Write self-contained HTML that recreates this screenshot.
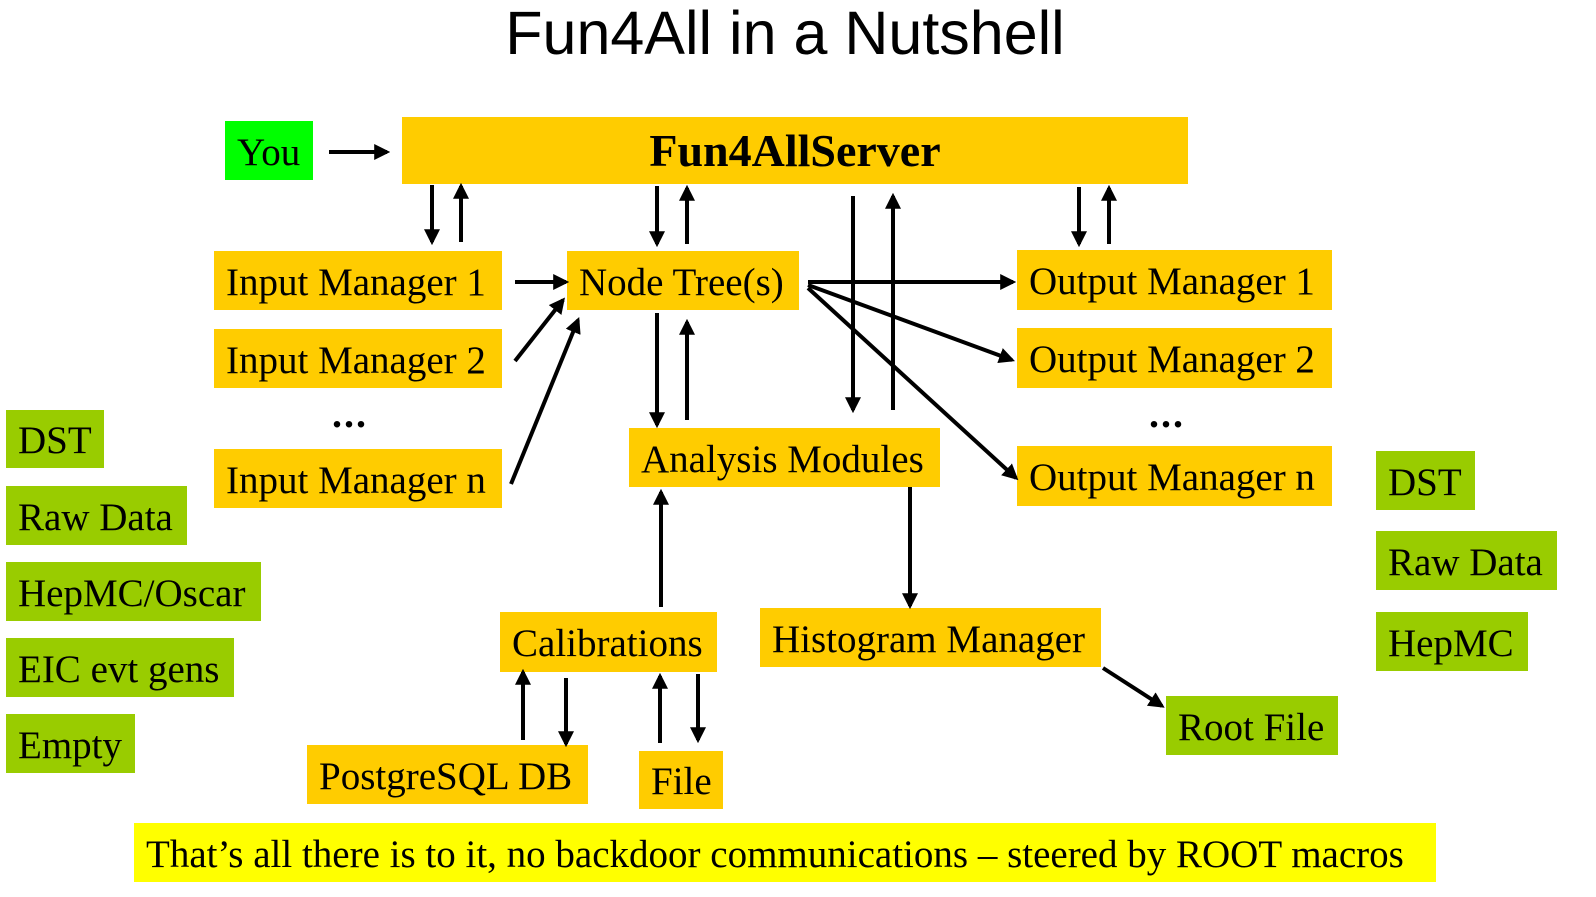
<!DOCTYPE html>
<html><head><meta charset="utf-8"><style>
body{margin:0;width:1596px;height:897px;background:#fff;position:relative;overflow:hidden;font-family:"Liberation Serif",serif;}
.b{position:absolute;box-sizing:border-box;font-size:39px;line-height:1;display:flex;align-items:center;padding-left:12px;padding-top:3px;white-space:nowrap;color:#000}
.o{background:#FFCC00}.g{background:#99CC00}
.t{position:absolute;font-family:"Liberation Sans",sans-serif;font-size:61px;left:0;width:1570px;text-align:center;top:-2px}
.d{position:absolute;font-size:40px;font-weight:bold;letter-spacing:2px}
svg{position:absolute;left:0;top:0}
</style></head><body>
<div class="t">Fun4All in a Nutshell</div>
<div class="b" style="left:225px;top:121px;width:88px;height:59px;background:#00FF00">You</div>
<div class="b o" style="left:402px;top:117px;width:786px;height:67px;justify-content:center;padding:0;font-weight:bold;font-size:46px">Fun4AllServer</div>
<div class="b o" style="left:214px;top:251px;width:288px;height:59px">Input Manager 1</div>
<div class="b o" style="left:214px;top:329px;width:288px;height:59px">Input Manager 2</div>
<div class="d" style="left:332px;top:390px">...</div>
<div class="b o" style="left:214px;top:449px;width:288px;height:59px">Input Manager n</div>
<div class="b o" style="left:567px;top:251px;width:232px;height:59px">Node Tree(s)</div>
<div class="b o" style="left:1017px;top:250px;width:315px;height:60px">Output Manager 1</div>
<div class="b o" style="left:1017px;top:328px;width:315px;height:60px">Output Manager 2</div>
<div class="d" style="left:1149px;top:390px">...</div>
<div class="b o" style="left:1017px;top:446px;width:315px;height:60px">Output Manager n</div>
<div class="b o" style="left:629px;top:428px;width:311px;height:59px">Analysis Modules</div>
<div class="b o" style="left:500px;top:612px;width:217px;height:60px">Calibrations</div>
<div class="b o" style="left:760px;top:608px;width:341px;height:59px">Histogram Manager</div>
<div class="b g" style="left:1166px;top:696px;width:172px;height:59px">Root File</div>
<div class="b o" style="left:307px;top:745px;width:281px;height:59px">PostgreSQL DB</div>
<div class="b o" style="left:639px;top:751px;width:84px;height:58px">File</div>
<div class="b g" style="left:6px;top:410px;width:98px;height:58px">DST</div>
<div class="b g" style="left:6px;top:486px;width:181px;height:59px">Raw Data</div>
<div class="b g" style="left:6px;top:562px;width:255px;height:59px">HepMC/Oscar</div>
<div class="b g" style="left:6px;top:638px;width:228px;height:59px">EIC evt gens</div>
<div class="b g" style="left:6px;top:714px;width:129px;height:59px">Empty</div>
<div class="b g" style="left:1376px;top:451px;width:99px;height:59px">DST</div>
<div class="b g" style="left:1376px;top:531px;width:181px;height:59px">Raw Data</div>
<div class="b g" style="left:1376px;top:612px;width:152px;height:59px">HepMC</div>
<div class="b" style="left:134px;top:823px;width:1302px;height:59px;background:#FFFF00;font-size:39px">That’s all there is to it, no backdoor communications – steered by ROOT macros</div>
<svg width="1596" height="897">
<defs><marker id="a" markerWidth="4" markerHeight="4" refX="3.2" refY="2" orient="auto" markerUnits="strokeWidth"><path d="M0,0L4,2L0,4z" fill="#000"/></marker></defs>
<g stroke="#000" stroke-width="4" marker-end="url(#a)" fill="none">
<line x1="329" y1="152" x2="387" y2="152"/>
<line x1="432" y1="185" x2="432" y2="242"/><line x1="461" y1="242" x2="461" y2="186"/>
<line x1="657" y1="186" x2="657" y2="244"/><line x1="687" y1="244" x2="687" y2="188"/>
<line x1="853" y1="196" x2="853" y2="410"/><line x1="893" y1="410" x2="893" y2="196"/>
<line x1="1079" y1="187" x2="1079" y2="244"/><line x1="1109" y1="244" x2="1109" y2="188"/>
<line x1="515" y1="282" x2="566" y2="282"/>
<line x1="515" y1="361" x2="563" y2="300"/>
<line x1="511" y1="484" x2="578" y2="320"/>
<line x1="808" y1="282" x2="1013" y2="282"/>
<line x1="808" y1="285" x2="1012" y2="360"/>
<line x1="808" y1="288" x2="1016" y2="478"/>
<line x1="657" y1="313" x2="657" y2="425"/><line x1="687" y1="420" x2="687" y2="322"/>
<line x1="661" y1="607" x2="661" y2="492"/>
<line x1="910" y1="487" x2="910" y2="606"/>
<line x1="523" y1="740" x2="523" y2="672"/><line x1="566" y1="678" x2="566" y2="744"/>
<line x1="660" y1="743" x2="660" y2="676"/><line x1="698" y1="674" x2="698" y2="740"/>
<line x1="1103" y1="668" x2="1162" y2="706"/>
</g></svg>
</body></html>
